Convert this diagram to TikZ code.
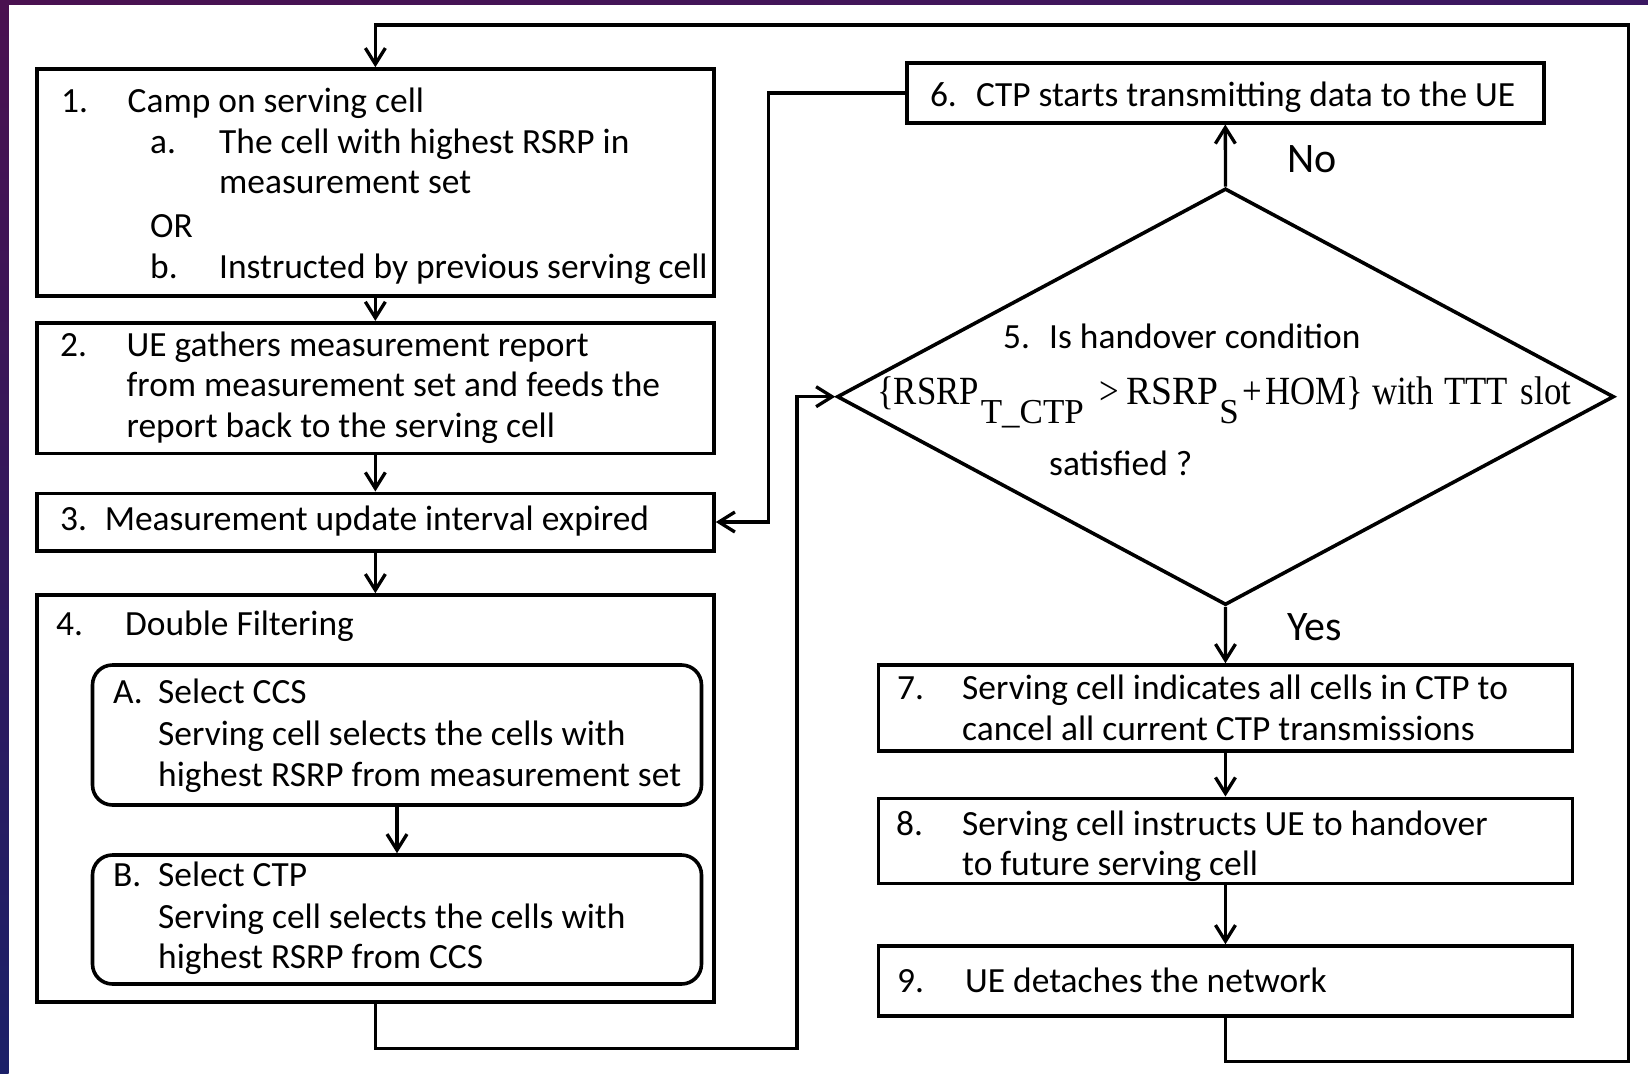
\documentclass[tikz,border=0pt]{standalone}
\usepackage{fontspec}
\setmainfont{Carlito}
\newfontfamily\serfn[FakeStretch=0.87]{Liberation Serif}
\newfontfamily\serf{Liberation Serif}
\newcommand\subsz{\serf\fontsize{35}{35}\selectfont}
\usetikzlibrary{arrows.meta,shapes.geometric}
\definecolor{bandA}{HTML}{4A1150}
\definecolor{bandB}{HTML}{3A1862}
\definecolor{bandC}{HTML}{1B2068}
\begin{document}
\begin{tikzpicture}[x=1pt,y=-1pt,
  box/.style={draw=black, line width=3.6pt, rectangle, inner sep=0pt},
  rbox/.style={box, rounded corners=20pt},
  decision/.style={draw=black, line width=3.6pt, diamond, inner sep=0pt},
  arr/.style={draw=black, line width=3.3pt,
    -{Straight Barb[length=16pt,width=20pt]}},
  txt/.style={anchor=base west, inner sep=0pt, font=\fontsize{35.4}{42}\selectfont},
  big/.style={anchor=base west, inner sep=0pt, font=\fontsize{42}{48}\selectfont},
]
% page and frame bands
\fill[white] (0,0) rectangle (1648,1073);
\useasboundingbox (0,0) rectangle (1648,1073);
\shade[left color=bandA, right color=bandB] (0,0) rectangle (1648,5);
\shade[top color=bandA, bottom color=bandC] (0,0) rectangle (8.5,1073);

% boxes of the left column
\node[box, minimum width=677.3pt, minimum height=227pt] (b1) at (375.35,182.5) {};
\node[box, minimum width=677.3pt, minimum height=130.6pt] (b2) at (375.35,388) {};
\node[box, minimum width=677.3pt, minimum height=57.4pt] (b3) at (375.35,522) {};
\node[box, minimum width=677.3pt, minimum height=407pt] (b4) at (375.35,798.5) {};
\node[rbox, minimum width=609pt, minimum height=140pt] (bA) at (397,735) {};
\node[rbox, minimum width=609pt, minimum height=129pt] (bB) at (397,919.5) {};

% boxes of the right column
\node[box, minimum width=637.2pt, minimum height=59.4pt] (b6) at (1225.3,93) {};
\node[decision, minimum width=777pt, minimum height=416.6pt] (d5) at (1225.5,396.7) {};
\node[box, minimum width=694.1pt, minimum height=85.7pt] (b7) at (1225.45,707.85) {};
\node[box, minimum width=694.1pt, minimum height=85pt] (b8) at (1225.45,840.8) {};
\node[box, minimum width=694.1pt, minimum height=70pt] (b9) at (1225.45,981) {};

% texts
\node[txt] (t1n) at (61,112) {1.};
\node[txt] (t1)  at (127.5,112) {Camp on serving cell};
\node[txt] (t1an) at (150,153) {a.};
\node[txt] (t1a) at (219,153) {The cell with highest RSRP in};
\node[txt] (t1a2) at (219,193) {measurement set};
\node[txt] (t1or) at (150,237) {OR};
\node[txt] (t1bn) at (150,278) {b.};
\node[txt] (t1b) at (219,278) {Instructed by previous serving cell};

\node[txt] (t2n) at (60,356.7) {2.};
\node[txt] (t2a) at (126.5,356.7) {UE gathers measurement report};
\node[txt] (t2b) at (126.5,396.7) {from measurement set and feeds the};
\node[txt] (t2c) at (126.5,437) {report back to the serving cell};

\node[txt] (t3n) at (60,530) {3.};
\node[txt] (t3) at (104.6,530) {Measurement update interval expired};

\node[txt] (t4n) at (56,635) {4.};
\node[txt] (t4) at (125,635) {Double Filtering};

\node[txt] (tAn) at (113,703) {A.};
\node[txt] (tA1) at (158,703) {Select CCS};
\node[txt] (tA2) at (158,745) {Serving cell selects the cells with};
\node[txt] (tA3) at (158,786) {highest RSRP from measurement set};

\node[txt] (tBn) at (113,886.7) {B.};
\node[txt] (tB1) at (158,886.7) {Select CTP};
\node[txt] (tB2) at (158,928) {Serving cell selects the cells with};
\node[txt] (tB3) at (158,968) {highest RSRP from CCS};

\node[txt] (t6n) at (929.8,106) {6.};
\node[txt] (t6) at (975.8,106) {CTP starts transmitting data to the UE};

\node[txt] (t5n) at (1003,348) {5.};
\node[txt] (t5a) at (1049,348) {Is handover condition};
% handover inequality, pieces placed at fixed offsets from its start
\node[anchor=base west, inner sep=0pt, font=\serfn\fontsize{40}{40}\selectfont] (t5b) at (877,404.6)
  {\rlap{\{RSRP}\hspace{103.6pt}\rlap{\lower19pt\hbox{\subsz T\_CTP}}\hspace{118.9pt}\rlap{>}\hspace{27.2pt}\rlap{\scalebox{1.08}[1]{RSRP}}\hspace{92.5pt}\rlap{\lower19pt\hbox{\subsz S}}\hspace{22.8pt}\rlap{+}\hspace{23pt}\rlap{HOM\}}\hspace{107pt}\rlap{with}\hspace{72pt}\rlap{TTT}\hspace{76.8pt}slot};
\node[txt] (t5c) at (1049,475) {satisfied ?};

\node[txt] (t7n) at (897,699) {7.};
\node[txt] (t7a) at (962,699) {Serving cell indicates all cells in CTP to};
\node[txt] (t7b) at (962,740) {cancel all current CTP transmissions};

\node[txt] (t8n) at (896,835) {8.};
\node[txt] (t8a) at (962,835) {Serving cell instructs UE to handover};
\node[txt] (t8b) at (962,875) {to future serving cell};

\node[txt] (t9n) at (897,992.7) {9.};
\node[txt] (t9) at (965,992.7) {UE detaches the network};

% connectors
\coordinate (loopR) at (1628.5,25);
\coordinate (jL) at (797,396.7);
\coordinate (jM) at (768.5,93);

\draw[arr] (b1.south) -- (b2.north);
\draw[arr] (b2.south) -- (b3.north);
\draw[arr] (b3.south) -- (b4.north);
\draw[arr] (bA.south) -- (bB.north);
\draw[arr] (b4.south) -- ++(0,45) -| (jL) -- (d5.west);
\draw[arr] (b6.west) -- (jM) |- (b3.east);
\draw[arr] (d5.north) -- (b6.south);
\draw[arr] (d5.south) -- (b7.north);
\draw[arr] (b7.south) -- (b8.north);
\draw[arr] (b8.south) -- (b9.north);
\draw[arr] (b9.south) -- ++(0,44) -| (loopR) -| (b1.north);

\node[big] (lno) at (1287,172) {No};
\node[big] (lyes) at (1287,640) {Yes};
\end{tikzpicture}
\end{document}
